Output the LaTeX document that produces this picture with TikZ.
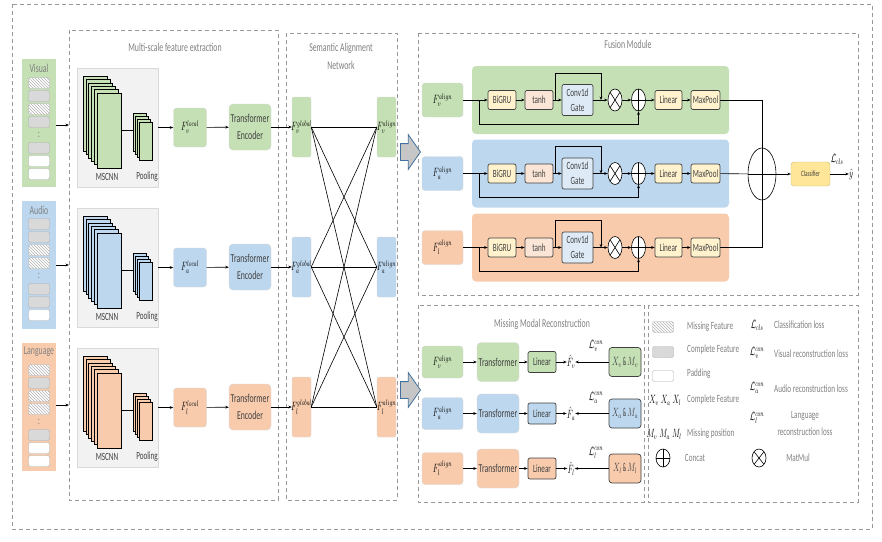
\documentclass[tikz,border=0pt]{standalone}
\usepackage{amsmath,amssymb}
\usepackage{fontspec}
\setmainfont{Carlito}[FakeStretch=0.65]
\usepackage{tikz}
\usetikzlibrary{arrows.meta,shapes.geometric,shapes.arrows,patterns}
\definecolor{vis}{HTML}{C5E0B4}
\definecolor{aud}{HTML}{BDD7EE}
\definecolor{lan}{HTML}{F8CBAD}
\definecolor{grufill}{HTML}{FFF2CC}
\definecolor{tanhfill}{HTML}{FBE5D6}
\definecolor{gatefill}{HTML}{DEEBF7}
\definecolor{clsfill}{HTML}{FFE699}
\definecolor{panel}{HTML}{F2F2F2}
\definecolor{soft}{HTML}{D9D9D9}
\definecolor{muted}{HTML}{808080}
\definecolor{ink}{HTML}{404040}
\definecolor{arrblue}{HTML}{41719C}
\newcommand\narrow[1]{\scalebox{0.65}[1]{#1}}
\tikzset{
  frame/.style={draw=muted!80, dash pattern=on 4pt off 3pt, line width=0.6pt},
  ttl/.style={text=muted, font=\fontsize{12}{14}\selectfont, align=center, inner sep=1pt},
  txt/.style={text=ink, font=\fontsize{11}{13}\selectfont, align=center, inner sep=1pt},
  mth/.style={text=black, font=\fontsize{12}{14}\selectfont, inner sep=0pt},
  line/.style={draw=black, line width=0.6pt},
  arr/.style={line, -{Stealth[length=3.5pt,width=2.8pt]}},
  cell/.style={draw=soft!80!black, rounded corners=2pt, minimum width=21pt, minimum height=11pt, inner sep=0pt},
  miss/.style={cell, preaction={fill=white}, pattern=north west lines, pattern color=muted!60},
  full/.style={cell, fill=soft},
  pad/.style={cell, fill=white},
  col/.style={minimum width=34pt, minimum height=128pt, inner sep=0pt},
  panelbox/.style={draw=soft, fill=panel, minimum width=81pt, minimum height=119pt, inner sep=0pt},
  layer/.style={draw=black, line width=0.5pt},
  fbox/.style={draw=soft, rounded corners=3pt, inner sep=0pt, text=black, font=\fontsize{12}{14}\selectfont},
  tbox/.style={draw=soft, rounded corners=4pt, inner sep=0pt, text=ink, align=center, font=\fontsize{12}{17}\selectfont},
  sbox/.style={draw=soft, rounded corners=2pt, minimum width=19pt, minimum height=60pt, inner sep=0pt},
  band/.style={rounded corners=4pt, minimum width=257pt, minimum height=68pt, inner sep=0pt},
  op/.style={draw=ink, line width=0.7pt, rounded corners=2pt, minimum height=19pt, inner sep=0pt,
    text=ink, align=center, font=\fontsize{11}{15}\selectfont},
  cat/.style={ellipse, draw, line width=0.6pt, fill=white, minimum width=14pt, minimum height=22pt, inner sep=0pt,
    path picture={\draw (path picture bounding box.north) -- (path picture bounding box.south)
      (path picture bounding box.west) -- (path picture bounding box.east);}},
  mul/.style={ellipse, draw, line width=0.6pt, fill=white, minimum width=14pt, minimum height=22pt, inner sep=0pt,
    path picture={\draw (path picture bounding box.north west) -- (path picture bounding box.south east)
      (path picture bounding box.north east) -- (path picture bounding box.south west);}},
  blk/.style={single arrow, draw=arrblue, fill=gray!45, line width=0.8pt, minimum height=20pt,
    single arrow head extend=9pt, inner xsep=0pt, inner ysep=8pt, single arrow tip angle=110,
    single arrow head indent=0pt},
  legt/.style={txt, text=muted, anchor=west},
}

\begin{document}
\begin{tikzpicture}[x=1pt,y=-1pt]
  \useasboundingbox (0,0) rectangle (882,541);
  % module frames
  \draw[frame] (12,4) rectangle (872,529);
  \draw[frame] (69,30) rectangle (278,500);
  \draw[frame] (286,33) rectangle (397,500);
  \draw[frame] (418,33) rectangle (858,295);
  \draw[frame] (418,305) rectangle (644,502);
  \draw[frame] (648,305) rectangle (858,502);
  \node[ttl] (tms) at (175,47) {Multi-scale feature extraction};
  \node[ttl] (tsa) at (341,56) {Semantic Alignment\\[4pt]Network};
  \node[ttl] (tfm) at (628,44) {Fusion Module};
  \node[ttl] (tmr) at (542,324) {Missing Modal Reconstruction};

  % input sequences
  \foreach \m/\clr/\ty/\lbl in {v/vis/59/Visual, a/aud/201/Audio, l/lan/343/Language}{
    \node[col, fill=\clr] (col\m) at (39,\ty+64) {};
    \node[ttl] (nm\m) at (39,\ty+9) {\lbl};
  }
  \foreach \y/\s in {83/miss,96/full,109/miss,122/full,148/full,161/pad,174/pad,
      224/full,237/full,250/miss,263/miss,289/full,302/full,315/pad,
      370/miss,383/full,396/miss,409/miss,435/full,448/pad,461/pad}
    \node[\s] (cell\y) at (39,\y) {};
  \foreach \y in {135,276,422}
    \node[ttl] (gap\y) at (39,\y) {:};

  % multi-scale branch, encoder and alignment
  \foreach \m/\clr/\dy in {v/vis/0, a/aud/140, l/lan/280}{
    \node[panelbox] (pn\m) at (117.5,127.5+\dy) {};
    \foreach \k in {5,...,1}
      \draw[layer, fill=\clr] (97-2.8*\k,93+\dy-3.4*\k) rectangle ++(24,75);
    \node[layer, fill=\clr, minimum width=24pt, minimum height=75pt, inner sep=0pt] (cnn\m) at (109,130.5+\dy) {};
    \coordinate (pin\m) at (133,130.5+\dy);
    \draw[line] (cnn\m) -- (pin\m);
    \foreach \k in {3,...,1}
      \draw[layer, fill=\clr] (139-2*\k,122+\dy-3*\k) rectangle ++(13,38);
    \node[layer, fill=\clr, minimum width=13pt, minimum height=38pt, inner sep=0pt] (pool\m) at (145.5,141+\dy) {};
    \node[txt] (lc\m) at (107,177+\dy) {MSCNN};
    \node[txt] (lp\m) at (147,177+\dy) {Pooling};
    \coordinate (in\m) at (69,125+\dy);
    \draw[arr] (col\m.east |- in\m) -- (in\m);
    \node[fbox, fill=\clr, minimum width=33pt, minimum height=39pt] (fl\m) at (190,127.5+\dy) {\narrow{$F_\m^{local}$}};
    \node[tbox, fill=\clr, minimum width=42pt, minimum height=46pt] (te\m) at (250,127+\dy) {Transformer\\Encoder};
    \node[sbox, fill=\clr, label={[mth]center:\narrow{$F_\m^{global}$}}] (gl\m) at (301.5,127+\dy) {};
    \node[sbox, fill=\clr, label={[mth]center:\narrow{$F_\m^{align}$}}] (al\m) at (386.5,127+\dy) {};
    \draw[arr] (pn\m.east |- fl\m) -- (fl\m);
    \draw[arr] (fl\m) -- (te\m);
    \draw[arr] (te\m) -- (gl\m);
  }
  \foreach \p in {v,a,l}
    \foreach \q in {v,a,l}
      \draw[line] (gl\p.east) -- (al\q.west);
  \node[blk] (toF) at (407.5,152) {};
  \node[blk] (toR) at (407.5,390) {};

  % fusion module
  \foreach \m/\clr/\fy in {v/vis/100, a/aud/173.5, l/lan/247.5}{
    \node[band, fill=\clr] (bd\m) at (600.5,\fy) {};
    \node[fbox, fill=\clr, minimum width=41pt, minimum height=34pt] (fa\m) at (442.5,\fy) {\narrow{$F_\m^{align}$}};
    \node[op, fill=grufill, minimum width=28pt] (gru\m) at (502,\fy) {BiGRU};
    \node[op, fill=tanhfill, minimum width=28pt] (th\m) at (539,\fy) {tanh};
    \node[op, fill=gatefill, minimum width=31pt, minimum height=31pt] (gt\m) at (577.5,\fy) {Conv1d\\Gate};
    \node[mul] (mm\m) at (615,\fy) {};
    \node[cat] (ct\m) at (638.5,\fy) {};
    \node[op, fill=grufill, minimum width=27pt] (ln\m) at (668.5,\fy) {Linear};
    \node[op, fill=grufill, minimum width=29pt] (mp\m) at (705.5,\fy) {MaxPool};
    \coordinate (br\m) at (479,\fy);
    \coordinate (sk\m) at (555,\fy);
    \coordinate (jn\m) at (601,\fy);
    \draw[arr] (fa\m) -- (gru\m);
    \draw[arr] (br\m) -- ++(0,24) -| (ct\m);
    \draw[arr] (gru\m) -- (th\m);
    \draw[arr] (th\m) -- (gt\m);
    \draw[arr] (sk\m) -- ++(0,-27) -| (jn\m);
    \draw[arr] (gt\m) -- (mm\m);
    \draw[arr] (mm\m) -- (ct\m);
    \draw[arr] (ct\m) -- (ln\m);
    \draw[arr] (ln\m) -- (mp\m);
  }
  \node[cat, minimum width=28pt, minimum height=52pt] (sum) at (762,174) {};
  \draw[line] (mpv) -| (sum);
  \draw[line] (mpa) -- (sum);
  \draw[line] (mpl) -| (sum);
  \node[op, fill=clsfill, draw=clsfill!80!black, line width=0.4pt, rounded corners=3pt,
    minimum width=39pt, minimum height=24pt, font=\fontsize{8}{9}\selectfont] (clf) at (810.5,174) {Classifier};
  \node[mth] (yh) at (851,174) {\narrow{$\hat{y}$}};
  \node[mth] (lcls) at (837,159) {\narrow{$\mathcal{L}_{cls}$}};
  \draw[arr] (sum) -- (clf);
  \draw[arr] (clf) -- (yh);

  % missing modal reconstruction
  \foreach \m/\clr/\ry in {v/vis/362, a/aud/413.5, l/lan/468.5}{
    \node[fbox, fill=\clr, minimum width=41pt, minimum height=32pt] (rf\m) at (442.5,\ry) {\narrow{$F_\m^{align}$}};
    \node[tbox, fill=\clr, minimum width=42pt, minimum height=39pt] (rt\m) at (498,\ry) {Transformer};
    \node[op, fill=\clr, minimum width=28pt, minimum height=21pt] (rl\m) at (542,\ry) {Linear};
    \node[mth] (rh\m) at (571,\ry) {\narrow{$\hat{F}_\m$}};
    \node[op, fill=\clr, rounded corners=3pt, minimum width=32pt, minimum height=29pt, font=\fontsize{12}{13}\selectfont] (rx\m) at (625,\ry) {\narrow{$X_\m$ \& $M_\m$}};
    \node[mth] (lc\m) at (596,\ry-16) {\narrow{$\mathcal{L}_\m^{con}$}};
    \draw[arr] (rf\m) -- (rt\m);
    \draw[arr] (rt\m) -- (rl\m);
    \draw[arr] (rl\m) -- (rh\m);
    \draw[arr] (rx\m) -- (rh\m);
  }

  % legend
  \node[miss] (lg1) at (663,327) {};
  \node[legt] (lt1) at (686,327) {Missing Feature};
  \node[full] (lg2) at (663,352) {};
  \node[legt] (lt2) at (686,350) {Complete Feature};
  \node[pad] (lg3) at (663,376) {};
  \node[legt] (lt3) at (686,374) {Padding};
  \node[mth] (lg4) at (665,400) {\narrow{$X_v\;X_a\;X_l$}};
  \node[legt] (lt4) at (686,400) {Complete Feature};
  \node[mth] (lg5) at (664,434) {\narrow{$M_v\;M_a\;M_l$}};
  \node[legt] (lt5) at (686,434) {Missing position};
  \node[cat, minimum height=18pt] (lg6) at (663,458) {};
  \node[txt, text=muted] (lt6) at (695,458) {Concat};
  \node[mth] (lg7) at (757,325) {\narrow{$\mathcal{L}_{cls}$}};
  \node[legt] (lt7) at (773,325) {Classification loss};
  \node[mth] (lg8) at (757,353) {\narrow{$\mathcal{L}_v^{con}$}};
  \node[legt] (lt8) at (773,354) {Visual reconstruction loss};
  \node[mth] (lg9) at (757,388) {\narrow{$\mathcal{L}_a^{con}$}};
  \node[legt] (lt9) at (773,389) {Audio reconstruction loss};
  \node[mth] (lg10) at (757,418) {\narrow{$\mathcal{L}_l^{con}$}};
  \node[txt, text=muted, font=\fontsize{11}{17}\selectfont] (lt10) at (805,424) {Language\\reconstruction loss};
  \node[mul, minimum height=18pt] (lg11) at (759,458) {};
  \node[txt, text=muted] (lt11) at (798,458) {MatMul};
\end{tikzpicture}
\end{document}
